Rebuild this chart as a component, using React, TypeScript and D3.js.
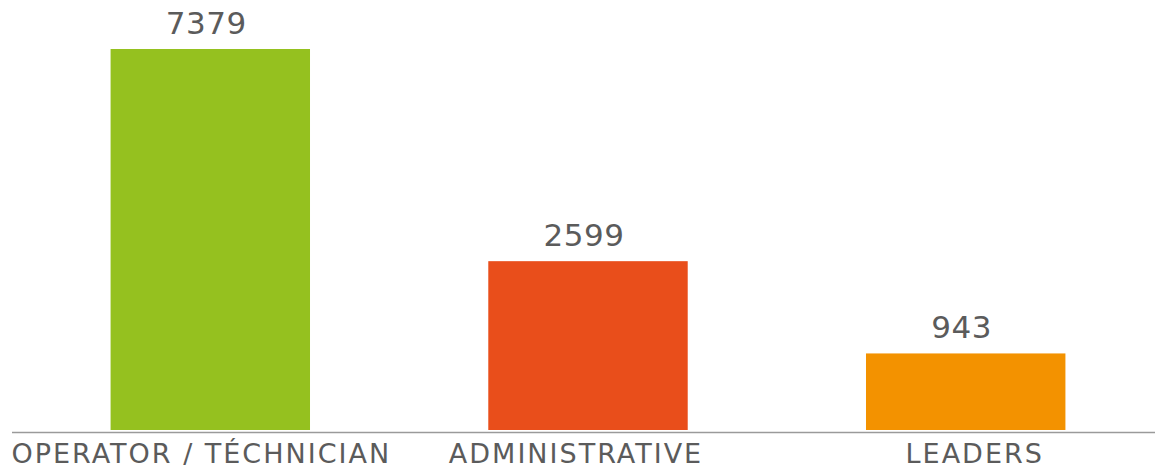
import React from "react";
import * as d3 from "d3";

const categories: string[] = ["OPERATOR / TÉCHNICIAN", "ADMINISTRATIVE", "LEADERS"];
const values: number[] = [7379, 2599, 943];
const colors: string[] = ["#95C11F", "#E94E1B", "#F39200"];

const W = 1156;
const H = 468;
const baseY = 430;
const topY = 49;

export default function App() {
  const x = d3
    .scaleBand<string>()
    .domain(categories)
    .range([12, 1164])
    .paddingInner(0.472)
    .paddingOuter(0.261);
  const y = d3
    .scalePow()
    .exponent(0.78)
    .domain([0, d3.max(values) as number])
    .range([baseY, topY]);

  const font = "'DejaVu Sans', sans-serif";
  const labelShift = [-9, -12, 9];
  return (
    <svg
      width={W}
      height={H}
      style={{ position: "absolute", left: 0, top: 0, background: "#fff" }}
    >
      {categories.map((c, i) => (
        <rect
          key={c}
          x={x(c)}
          y={y(values[i])}
          width={x.bandwidth()}
          height={baseY - y(values[i])}
          fill={colors[i]}
        />
      ))}
      <line x1={12} x2={1155} y1={432.5} y2={432.5} stroke="#9a9a9a" strokeWidth={1.5} />
      {categories.map((c, i) => (
        <text
          key={"v" + c}
          x={(x(c) as number) + x.bandwidth() / 2 - 4}
          y={y(values[i]) - 15}
          textAnchor="middle"
          fontFamily={font}
          fontSize={31}
          letterSpacing={0.5}
          fill="#5b5b5b"
        >
          {values[i]}
        </text>
      ))}
      {categories.map((c, i) => (
        <text
          key={"l" + c}
          x={(x(c) as number) + x.bandwidth() / 2 + labelShift[i]}
          y={462.5}
          textAnchor="middle"
          fontFamily={font}
          fontSize={27}
          letterSpacing={2}
          fill="#5b5b5b"
        >
          {c}
        </text>
      ))}
    </svg>
  );
}
